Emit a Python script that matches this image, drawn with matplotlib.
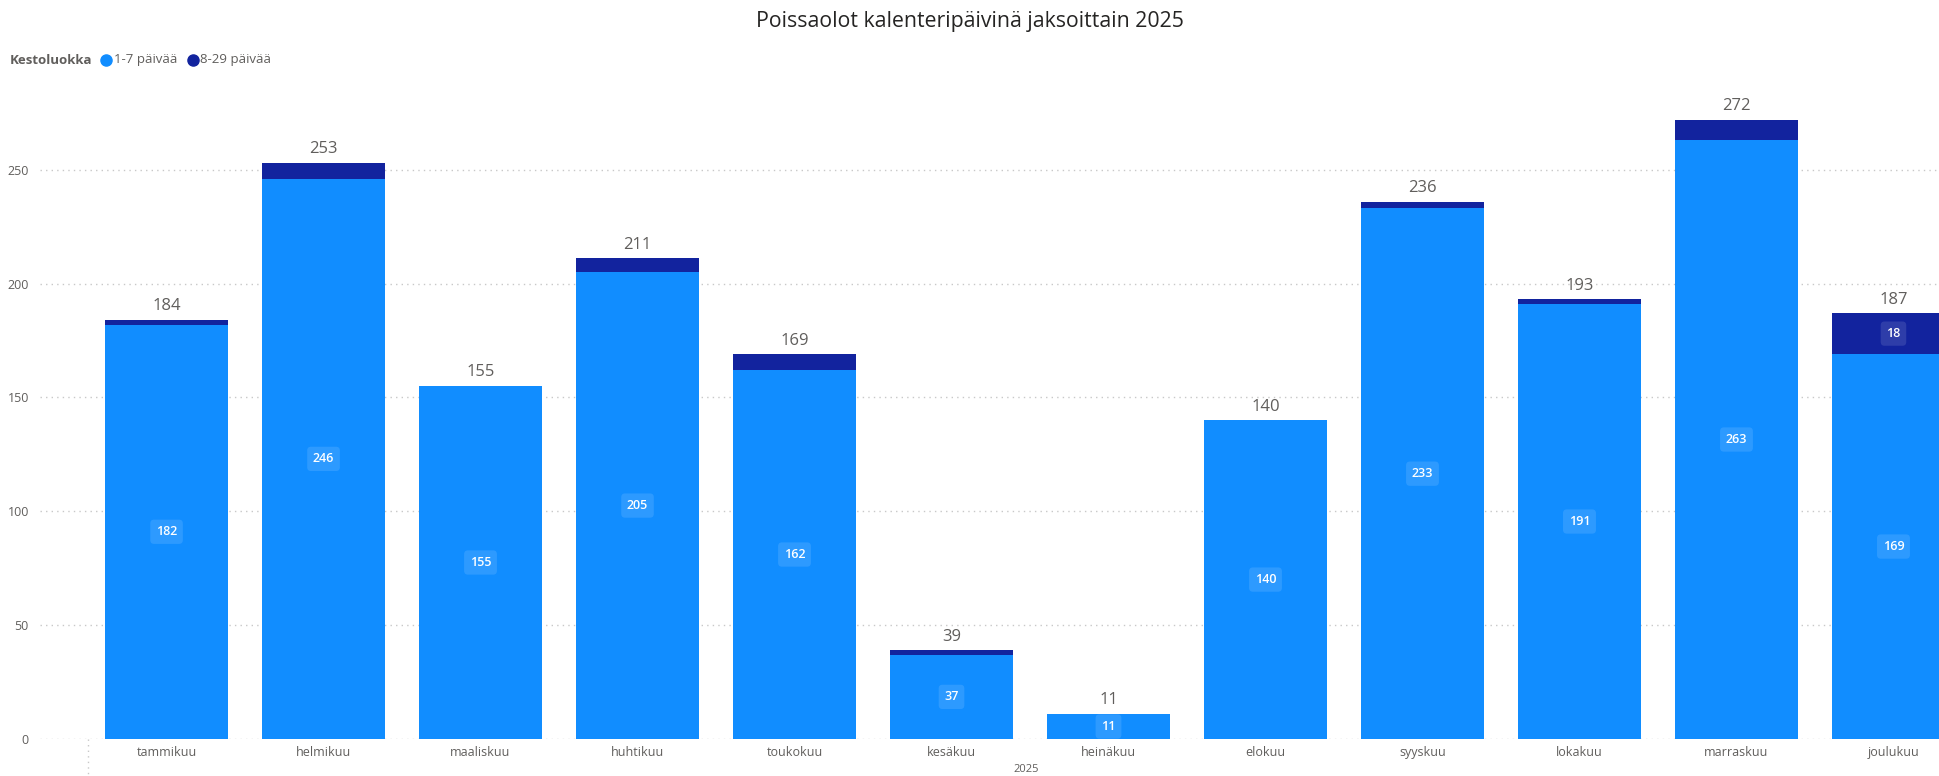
import matplotlib.pyplot as plt
from matplotlib.lines import Line2D

plt.rcParams['font.family'] = ['Open Sans', 'DejaVu Sans']

# Kuukausittaiset poissaolot kestoluokittain
kuukaudet = ['tammikuu', 'helmikuu', 'maaliskuu', 'huhtikuu', 'toukokuu', 'kesäkuu',
             'heinäkuu', 'elokuu', 'syyskuu', 'lokakuu', 'marraskuu', 'joulukuu']
lyhyet = [182, 246, 155, 205, 162, 37, 11, 140, 233, 191, 263, 169]   # 1-7 päivää
pitkat = [2, 7, 0, 6, 7, 2, 0, 0, 3, 2, 9, 18]                       # 8-29 päivää
yticks = [0, 50, 100, 150, 200, 250]

vaalea = '#118DFF'
tumma = '#12239E'
harmaa = '#605E5C'

fig = plt.figure(figsize=(19.39, 7.76), dpi=100)
ax = fig.add_axes([40 / 1939, 37 / 776, 1 - 40 / 1939, 665 / 776])

x = range(len(kuukaudet))
ax.bar(x, lyhyet, width=0.78, color=vaalea, zorder=2)
ax.bar(x, pitkat, width=0.78, bottom=lyhyet, color=tumma, zorder=2)

ax.set_xlim(-0.806, 11.29)
ax.set_ylim(0, 292)
ax.set_yticks(yticks)
ax.set_xticks(list(x))
ax.set_xticklabels(kuukaudet)
ax.tick_params(axis='both', length=0, labelsize=9, labelcolor=harmaa)
ax.tick_params(axis='x', pad=5)
ax.tick_params(axis='y', pad=8)
for s in ax.spines.values():
    s.set_visible(False)
ax.yaxis.grid(True, color='#c8c8c8', linestyle=(0, (1, 3)), linewidth=1, zorder=0)

# kategoria-akselin viiva vasemmalla
ax.plot([-0.5, -0.5], [0, -17], color='#c8c8c8', linestyle=(0, (1, 3)),
        linewidth=1, clip_on=False)

laatikko = dict(boxstyle='round,pad=0.45,rounding_size=0.3', fc='white',
                alpha=0.12, ec='none')
for i, (a, b) in enumerate(zip(lyhyet, pitkat)):
    ax.text(i, a / 2, str(a), ha='center', va='center', color='white',
            fontsize=9, fontweight='semibold', bbox=laatikko, zorder=3)
    if b >= 15:
        ax.text(i, a + b / 2, str(b), ha='center', va='center', color='white',
                fontsize=9, fontweight='semibold', bbox=laatikko, zorder=3)
    ax.annotate(str(a + b), (i, a + b), xytext=(0, 4), textcoords='offset points',
                ha='center', va='bottom', fontsize=12, color=harmaa)

fig.text(1026 / 1939, 1 - 770 / 776, '2025', ha='center', va='center',
         fontsize=8, color=harmaa)

fig.text(0.5, 1 - 22 / 776, 'Poissaolot kalenteripäivinä jaksoittain 2025',
         ha='center', va='center', fontsize=15.3, color='#252423')

# selite
ly = 1 - 60 / 776
fig.text(10 / 1939, ly, 'Kestoluokka', ha='left', va='center', fontsize=9.5,
         fontweight='bold', color=harmaa)
fig.add_artist(Line2D([106 / 1939], [ly], marker='o', markersize=8, color=vaalea,
                      transform=fig.transFigure))
fig.text(114 / 1939, ly, '1-7 päivää', ha='left', va='center', fontsize=9.5, color=harmaa)
fig.add_artist(Line2D([193 / 1939], [ly], marker='o', markersize=8, color=tumma,
                      transform=fig.transFigure))
fig.text(200 / 1939, ly, '8-29 päivää', ha='left', va='center', fontsize=9.5, color=harmaa)

fig.savefig('out.png', dpi=100)
